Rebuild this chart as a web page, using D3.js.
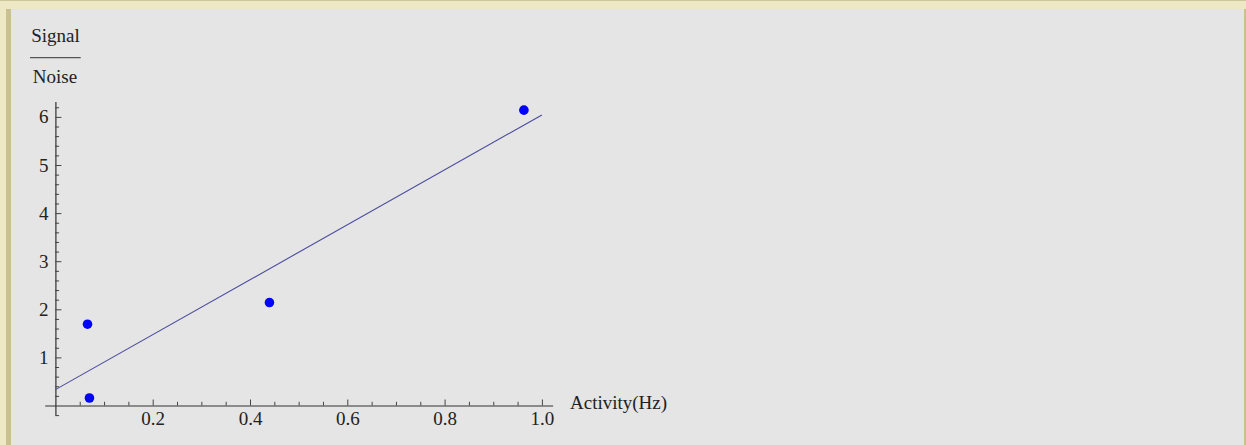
<!DOCTYPE html>
<html>
<head>
<meta charset="utf-8">
<script src="https://cdn.jsdelivr.net/npm/d3@7"></script>
<style>
  html, body { margin: 0; padding: 0; background: #efe8c4; }
  svg { display: block; }
</style>
</head>
<body>
<div class="plot"></div>
<script>
// measured points (activity in Hz vs signal/noise)
const activity = [0.066, 0.070, 0.44, 0.963];
const snr = [1.69, 0.156, 2.14, 6.14];

// fitted line, read at its two ends
const fitX = [0, 1];
const fitY = [0.33, 6.04];

const xTicks = [0.2, 0.4, 0.6, 0.8, 1.0];
const yTicks = [1, 2, 3, 4, 5, 6];

const width = 1246;
const height = 445;

const svg = d3.select('.plot')
    .append('svg')
    .attr('width', width)
    .attr('height', height);

// frame: yellow band, olive stripes, grey panel
svg.append('rect')
    .attr('x', 0).attr('y', 0)
    .attr('width', width).attr('height', height)
    .attr('fill', '#efe8c4');
svg.append('rect')
    .attr('x', 0).attr('y', 0)
    .attr('width', width).attr('height', 1)
    .attr('fill', '#cfc79c');
svg.append('rect')
    .attr('x', 6).attr('y', 9)
    .attr('width', 5).attr('height', height - 9)
    .attr('fill', '#c9c18f');
svg.append('rect')
    .attr('x', 11).attr('y', 9)
    .attr('width', width - 13).attr('height', height - 9)
    .attr('fill', '#e5e5e5');
svg.append('rect')
    .attr('x', width - 2).attr('y', 9)
    .attr('width', 2).attr('height', height - 9)
    .attr('fill', '#c9c18f');

const x = d3.scaleLinear()
    .domain([-0.022, 1.022])
    .range([55.4 - 0.022 * 486.5, 55.4 + 1.022 * 486.5]);

const y = d3.scaleLinear()
    .domain([-0.2, 6.32])
    .range([405.5 + 0.2 * 48.1, 405.5 - 6.32 * 48.1]);

const font = '"Liberation Serif", "Times New Roman", serif';
const fontSize = 19;

// minor ticks
const xMinor = d3.range(0.05, 1.001, 0.05).filter(v => Math.abs(v / 0.2 - Math.round(v / 0.2)) > 0.01);
const yMinor = d3.range(-0.2, 6.21, 0.2).filter(v => Math.abs(v - Math.round(v)) > 0.01);

svg.append('g')
    .attr('transform', `translate(0,${y(0)})`)
    .call(d3.axisBottom(x).tickValues(xMinor).tickSize(-3.7).tickFormat(''))
    .call(g => g.select('.domain').remove())
    .call(g => g.selectAll('line').attr('stroke', '#444'));

svg.append('g')
    .attr('transform', `translate(${x(0)},0)`)
    .call(d3.axisLeft(y).tickValues(yMinor).tickSize(-3.7).tickFormat(''))
    .call(g => g.select('.domain').remove())
    .call(g => g.selectAll('line').attr('stroke', '#444'));

// major ticks with labels
const xAxis = svg.append('g')
    .attr('transform', `translate(0,${y(0)})`)
    .call(d3.axisBottom(x).tickValues(xTicks).tickSize(-6).tickSizeOuter(0)
        .tickPadding(6).tickFormat(d3.format('.1f')));

const yAxis = svg.append('g')
    .attr('transform', `translate(${x(0)},0)`)
    .call(d3.axisLeft(y).tickValues(yTicks).tickSize(-6).tickSizeOuter(0)
        .tickPadding(7).tickFormat(d3.format('d')));

[xAxis, yAxis].forEach(g => {
    g.select('.domain').attr('stroke', '#333').attr('stroke-width', 1.2);
    g.selectAll('line').attr('stroke', '#444');
    g.selectAll('text')
        .attr('fill', '#222')
        .attr('font-family', font)
        .attr('font-size', fontSize);
});

// fitted line
svg.append('path')
    .datum(fitX.map((v, i) => [v, fitY[i]]))
    .attr('d', d3.line().x(d => x(d[0])).y(d => y(d[1])))
    .attr('fill', 'none')
    .attr('stroke', '#4a4a9e')
    .attr('stroke-width', 1.1);

// points
svg.selectAll('circle.pt')
    .data(activity)
    .enter()
    .append('circle')
    .attr('class', 'pt')
    .attr('cx', d => x(d))
    .attr('cy', (d, i) => y(snr[i]))
    .attr('r', 4.8)
    .attr('fill', '#0000ff');

// axis labels
svg.append('text')
    .attr('x', 570)
    .attr('y', 409)
    .attr('font-family', font)
    .attr('font-size', fontSize)
    .attr('fill', '#222')
    .text('Activity(Hz)');

svg.append('text')
    .attr('x', 55.5)
    .attr('y', 42)
    .attr('text-anchor', 'middle')
    .attr('font-family', font)
    .attr('font-size', fontSize)
    .attr('fill', '#222')
    .text('Signal');

svg.append('line')
    .attr('x1', 30).attr('x2', 80.7)
    .attr('y1', 57.7).attr('y2', 57.7)
    .attr('stroke', '#555')
    .attr('stroke-width', 1.3);

svg.append('text')
    .attr('x', 55)
    .attr('y', 82.5)
    .attr('text-anchor', 'middle')
    .attr('font-family', font)
    .attr('font-size', fontSize)
    .attr('fill', '#222')
    .text('Noise');
</script>
</body>
</html>
